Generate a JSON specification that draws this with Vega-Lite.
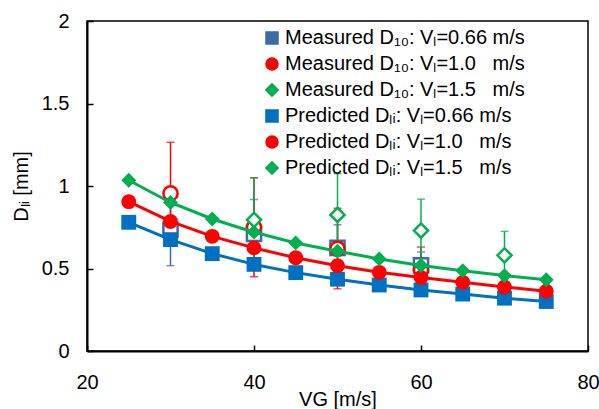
{
  "$schema": "https://vega.github.io/schema/vega-lite/v6.json",
  "width": 501,
  "height": 330,
  "autosize": {"type": "none"},
  "padding": {"left": 87, "top": 21, "right": 11, "bottom": 58},
  "config": {
    "font": "Liberation Sans",
    "view": {"stroke": "black", "strokeWidth": 1.5},
    "axis": {
      "grid": false,
      "domainColor": "black",
      "domainWidth": 2,
      "tickColor": "black",
      "tickWidth": 1.5,
      "tickSize": -6,
      "labelFlush": false,
      "labelFont": "Liberation Sans",
      "labelFontSize": 20,
      "labelColor": "black",
      "titleFont": "Liberation Sans",
      "titleFontSize": 20,
      "titleFontWeight": "normal",
      "titleColor": "black"
    },
    "legend": {
      "labelFont": "Liberation Sans",
      "labelFontSize": 20,
      "labelColor": "black",
      "labelLimit": 400,
      "rowPadding": 4,
      "symbolSize": 121,
      "symbolOpacity": 1,
      "labelOffset": 3,
      "padding": 0
    }
  },
  "data": {
    "values": [
      {"s": "Measured D₁₀: Vₗ=0.66 m/s", "kind": "M", "vg": 30, "d": 0.735, "lo": 0.517, "hi": 0.955},
      {"s": "Measured D₁₀: Vₗ=0.66 m/s", "kind": "M", "vg": 40, "d": 0.71, "lo": 0.5, "hi": 0.918},
      {"s": "Measured D₁₀: Vₗ=0.66 m/s", "kind": "M", "vg": 50, "d": 0.625, "lo": 0.49, "hi": 0.765},
      {"s": "Measured D₁₀: Vₗ=0.66 m/s", "kind": "M", "vg": 60, "d": 0.52, "lo": 0.44, "hi": 0.6},
      {"s": "Measured D₁₀: Vₗ=1.0\u00a0\u00a0\u00a0m/s", "kind": "M", "vg": 30, "d": 0.955, "lo": 0.645, "hi": 1.265},
      {"s": "Measured D₁₀: Vₗ=1.0\u00a0\u00a0\u00a0m/s", "kind": "M", "vg": 40, "d": 0.75, "lo": 0.45, "hi": 1.05},
      {"s": "Measured D₁₀: Vₗ=1.0\u00a0\u00a0\u00a0m/s", "kind": "M", "vg": 50, "d": 0.62, "lo": 0.377, "hi": 0.865},
      {"s": "Measured D₁₀: Vₗ=1.0\u00a0\u00a0\u00a0m/s", "kind": "M", "vg": 60, "d": 0.49, "lo": 0.35, "hi": 0.63},
      {"s": "Measured D₁₀: Vₗ=1.5\u00a0\u00a0\u00a0m/s", "kind": "M", "vg": 40, "d": 0.795, "lo": 0.54, "hi": 1.05},
      {"s": "Measured D₁₀: Vₗ=1.5\u00a0\u00a0\u00a0m/s", "kind": "M", "vg": 50, "d": 0.825, "lo": 0.575, "hi": 1.075},
      {"s": "Measured D₁₀: Vₗ=1.5\u00a0\u00a0\u00a0m/s", "kind": "M", "vg": 60, "d": 0.73, "lo": 0.54, "hi": 0.92},
      {"s": "Measured D₁₀: Vₗ=1.5\u00a0\u00a0\u00a0m/s", "kind": "M", "vg": 70, "d": 0.58, "lo": 0.435, "hi": 0.725},
      {"s": "Predicted Dₗᵢ: Vₗ=0.66 m/s", "kind": "P", "vg": 25, "d": 0.78},
      {"s": "Predicted Dₗᵢ: Vₗ=0.66 m/s", "kind": "P", "vg": 30, "d": 0.675},
      {"s": "Predicted Dₗᵢ: Vₗ=0.66 m/s", "kind": "P", "vg": 35, "d": 0.59},
      {"s": "Predicted Dₗᵢ: Vₗ=0.66 m/s", "kind": "P", "vg": 40, "d": 0.525},
      {"s": "Predicted Dₗᵢ: Vₗ=0.66 m/s", "kind": "P", "vg": 45, "d": 0.475},
      {"s": "Predicted Dₗᵢ: Vₗ=0.66 m/s", "kind": "P", "vg": 50, "d": 0.435},
      {"s": "Predicted Dₗᵢ: Vₗ=0.66 m/s", "kind": "P", "vg": 55, "d": 0.4},
      {"s": "Predicted Dₗᵢ: Vₗ=0.66 m/s", "kind": "P", "vg": 60, "d": 0.37},
      {"s": "Predicted Dₗᵢ: Vₗ=0.66 m/s", "kind": "P", "vg": 65, "d": 0.345},
      {"s": "Predicted Dₗᵢ: Vₗ=0.66 m/s", "kind": "P", "vg": 70, "d": 0.32},
      {"s": "Predicted Dₗᵢ: Vₗ=0.66 m/s", "kind": "P", "vg": 75, "d": 0.3},
      {"s": "Predicted Dₗᵢ: Vₗ=1.0\u00a0\u00a0\u00a0m/s", "kind": "P", "vg": 25, "d": 0.905},
      {"s": "Predicted Dₗᵢ: Vₗ=1.0\u00a0\u00a0\u00a0m/s", "kind": "P", "vg": 30, "d": 0.785},
      {"s": "Predicted Dₗᵢ: Vₗ=1.0\u00a0\u00a0\u00a0m/s", "kind": "P", "vg": 35, "d": 0.695},
      {"s": "Predicted Dₗᵢ: Vₗ=1.0\u00a0\u00a0\u00a0m/s", "kind": "P", "vg": 40, "d": 0.625},
      {"s": "Predicted Dₗᵢ: Vₗ=1.0\u00a0\u00a0\u00a0m/s", "kind": "P", "vg": 45, "d": 0.565},
      {"s": "Predicted Dₗᵢ: Vₗ=1.0\u00a0\u00a0\u00a0m/s", "kind": "P", "vg": 50, "d": 0.517},
      {"s": "Predicted Dₗᵢ: Vₗ=1.0\u00a0\u00a0\u00a0m/s", "kind": "P", "vg": 55, "d": 0.477},
      {"s": "Predicted Dₗᵢ: Vₗ=1.0\u00a0\u00a0\u00a0m/s", "kind": "P", "vg": 60, "d": 0.446},
      {"s": "Predicted Dₗᵢ: Vₗ=1.0\u00a0\u00a0\u00a0m/s", "kind": "P", "vg": 65, "d": 0.416},
      {"s": "Predicted Dₗᵢ: Vₗ=1.0\u00a0\u00a0\u00a0m/s", "kind": "P", "vg": 70, "d": 0.388},
      {"s": "Predicted Dₗᵢ: Vₗ=1.0\u00a0\u00a0\u00a0m/s", "kind": "P", "vg": 75, "d": 0.362},
      {"s": "Predicted Dₗᵢ: Vₗ=1.5\u00a0\u00a0\u00a0m/s", "kind": "P", "vg": 25, "d": 1.035},
      {"s": "Predicted Dₗᵢ: Vₗ=1.5\u00a0\u00a0\u00a0m/s", "kind": "P", "vg": 30, "d": 0.9},
      {"s": "Predicted Dₗᵢ: Vₗ=1.5\u00a0\u00a0\u00a0m/s", "kind": "P", "vg": 35, "d": 0.8},
      {"s": "Predicted Dₗᵢ: Vₗ=1.5\u00a0\u00a0\u00a0m/s", "kind": "P", "vg": 40, "d": 0.72},
      {"s": "Predicted Dₗᵢ: Vₗ=1.5\u00a0\u00a0\u00a0m/s", "kind": "P", "vg": 45, "d": 0.655},
      {"s": "Predicted Dₗᵢ: Vₗ=1.5\u00a0\u00a0\u00a0m/s", "kind": "P", "vg": 50, "d": 0.605},
      {"s": "Predicted Dₗᵢ: Vₗ=1.5\u00a0\u00a0\u00a0m/s", "kind": "P", "vg": 55, "d": 0.558},
      {"s": "Predicted Dₗᵢ: Vₗ=1.5\u00a0\u00a0\u00a0m/s", "kind": "P", "vg": 60, "d": 0.518},
      {"s": "Predicted Dₗᵢ: Vₗ=1.5\u00a0\u00a0\u00a0m/s", "kind": "P", "vg": 65, "d": 0.487},
      {"s": "Predicted Dₗᵢ: Vₗ=1.5\u00a0\u00a0\u00a0m/s", "kind": "P", "vg": 70, "d": 0.457},
      {"s": "Predicted Dₗᵢ: Vₗ=1.5\u00a0\u00a0\u00a0m/s", "kind": "P", "vg": 75, "d": 0.432}
    ]
  },
  "encoding": {
    "x": {
      "field": "vg", "type": "quantitative",
      "scale": {"domain": [20, 80], "nice": false},
      "axis": {"values": [20, 40, 60, 80], "title": "VG [m/s]", "labelPadding": 27, "titlePadding": -3}
    },
    "color": {
      "field": "s", "type": "nominal",
      "scale": {
        "domain": ["Measured D₁₀: Vₗ=0.66 m/s", "Measured D₁₀: Vₗ=1.0\u00a0\u00a0\u00a0m/s", "Measured D₁₀: Vₗ=1.5\u00a0\u00a0\u00a0m/s", "Predicted Dₗᵢ: Vₗ=0.66 m/s", "Predicted Dₗᵢ: Vₗ=1.0\u00a0\u00a0\u00a0m/s", "Predicted Dₗᵢ: Vₗ=1.5\u00a0\u00a0\u00a0m/s"],
        "range": ["#3C6CA8", "#FF0000", "#00B050", "#0070C0", "#FF0000", "#00B050"]
      },
      "legend": {
        "title": null,
        "orient": "none",
        "legendX": 175,
        "legendY": 7,
        "encode": {
          "symbols": {
            "update": {
              "shape": {"value": {"signal": "indexof(datum.value,'Predicted')==0 ? (indexof(datum.value,'0.66')>0 ? 'M-2.1,0H2.1M-0.95,-0.95H0.95V0.95H-0.95Z' : indexof(datum.value,'1.0')>0 ? 'M-2.1,0H2.1M1,0A1,1,0,1,1,-1,0A1,1,0,1,1,1,0Z' : 'M-2.1,0H2.1M-1.2,0L0,-1.2L1.2,0L0,1.2Z') : (indexof(datum.value,'0.66')>0 ? 'square' : indexof(datum.value,'1.0')>0 ? 'circle' : 'diamond')"}},
              "fill": {"value": {"signal": "indexof(datum.value,'Predicted')==0 ? scale('color', datum.value) : 'white'"}},
              "stroke": {"value": {"signal": "scale('color', datum.value)"}},
              "strokeWidth": {"value": 2.5},
              "size": {"value": 121},
              "opacity": {"value": 1}
            }
          }
        }
      }
    },
    "shape": {
      "field": "s", "type": "nominal",
      "scale": {
        "domain": ["Measured D₁₀: Vₗ=0.66 m/s", "Measured D₁₀: Vₗ=1.0\u00a0\u00a0\u00a0m/s", "Measured D₁₀: Vₗ=1.5\u00a0\u00a0\u00a0m/s", "Predicted Dₗᵢ: Vₗ=0.66 m/s", "Predicted Dₗᵢ: Vₗ=1.0\u00a0\u00a0\u00a0m/s", "Predicted Dₗᵢ: Vₗ=1.5\u00a0\u00a0\u00a0m/s"],
        "range": ["square", "circle", "diamond", "square", "circle", "diamond"]
      },
      "legend": {
        "title": null,
        "orient": "none",
        "legendX": 175,
        "legendY": 7,
        "encode": {
          "symbols": {
            "update": {
              "shape": {"value": {"signal": "indexof(datum.value,'Predicted')==0 ? (indexof(datum.value,'0.66')>0 ? 'M-2.1,0H2.1M-0.95,-0.95H0.95V0.95H-0.95Z' : indexof(datum.value,'1.0')>0 ? 'M-2.1,0H2.1M1,0A1,1,0,1,1,-1,0A1,1,0,1,1,1,0Z' : 'M-2.1,0H2.1M-1.2,0L0,-1.2L1.2,0L0,1.2Z') : (indexof(datum.value,'0.66')>0 ? 'square' : indexof(datum.value,'1.0')>0 ? 'circle' : 'diamond')"}},
              "fill": {"value": {"signal": "indexof(datum.value,'Predicted')==0 ? scale('color', datum.value) : 'white'"}},
              "stroke": {"value": {"signal": "scale('color', datum.value)"}},
              "strokeWidth": {"value": 2.5},
              "size": {"value": 121},
              "opacity": {"value": 1}
            }
          }
        }
      }
    },
    "y": {
      "field": "d", "type": "quantitative",
      "scale": {"domain": [0, 2], "nice": false},
      "axis": {"values": [0, 0.5, 1, 1.5, 2], "format": "~g", "title": "Dₗᵢ [mm]", "labelPadding": 24, "titlePadding": 10}
    }
  },
  "layer": [
    {
      "transform": [{"filter": "datum.kind == 'M'"}],
      "mark": {"type": "errorbar", "ticks": true, "size": 8, "thickness": 1.5},
      "encoding": {
        "y": {
          "field": "lo", "type": "quantitative",
          "scale": {"domain": [0, 2], "nice": false},
          "axis": {"values": [0, 0.5, 1, 1.5, 2], "format": "~g", "title": "Dₗᵢ [mm]", "labelPadding": 24, "titlePadding": 10}
        },
        "y2": {"field": "hi"},
        "shape": null
      }
    },
    {
      "transform": [{"filter": "datum.kind == 'M'"}],
      "mark": {"type": "point", "filled": false, "fill": "white", "size": 200, "strokeWidth": 2.5, "opacity": 1}
    },
    {
      "transform": [{"filter": "datum.kind == 'P'"}],
      "mark": {"type": "line", "strokeWidth": 3},
      "encoding": {"shape": null}
    },
    {
      "transform": [{"filter": "datum.kind == 'P'"}],
      "mark": {"type": "point", "filled": true, "size": 220, "opacity": 1}
    }
  ]
}
